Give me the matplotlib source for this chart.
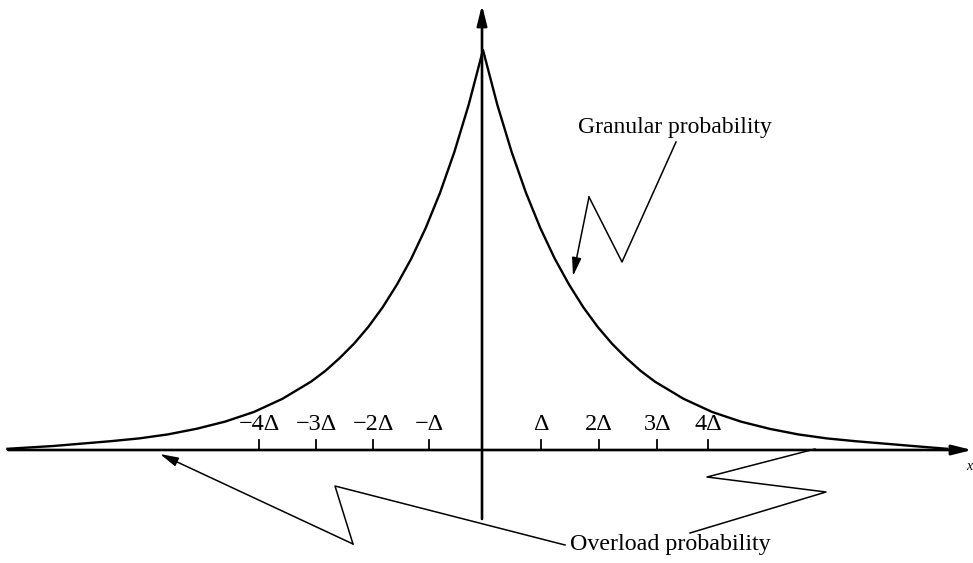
"""
Granular vs overload probability: two-sided exponential density
with the quantiser step marks along the horizontal axis.
"""

import matplotlib
matplotlib.use('Agg')
import matplotlib.pyplot as plt

# ── data (x in units of delta, height relative to the peak) ──────────────────
curve_x = [-8.3, -7.5, -7.0, -6.5, -6.0, -5.5, -5.0, -4.5, -4.0, -3.5, -3.0,
           -2.75, -2.5, -2.25, -2.0, -1.75, -1.5, -1.25, -1.0, -0.75, -0.5,
           -0.25, 0.0,
           0.25, 0.5, 0.75, 1.0, 1.25, 1.5, 1.75, 2.0, 2.25, 2.5, 2.75, 3.0,
           3.5, 4.0, 4.5, 5.0, 5.5, 6.0, 6.5, 7.0, 7.5, 8.1]
curve_y = [0.003, 0.010, 0.016, 0.022, 0.029, 0.039, 0.053, 0.071, 0.095,
           0.128, 0.171, 0.198, 0.230, 0.266, 0.308, 0.357, 0.414, 0.479,
           0.555, 0.643, 0.745, 0.863, 1.0,
           0.863, 0.745, 0.643, 0.555, 0.479, 0.414, 0.357, 0.308, 0.266,
           0.230, 0.198, 0.171, 0.128, 0.095, 0.071, 0.053, 0.039, 0.029,
           0.022, 0.016, 0.010, 0.003]

tick_pos    = [-3.91, -2.91, -1.92, -0.94, 1.01, 2.02, 3.04, 3.93]
tick_labels = ['\u22124\u0394', '\u22123\u0394', '\u22122\u0394', '\u2212\u0394',
               '\u0394', '2\u0394', '3\u0394', '4\u0394']

# ── figure layout: 973 x 563 px, origin at (483, 450) px, delta = 57.3 px ────
W, H = 973, 563
X0, Y0, DX, PEAK = 483, 450, 57.3, 400

plt.rcParams['font.family'] = ['Liberation Serif', 'DejaVu Serif']
fig = plt.figure(figsize=(W / 100, H / 100), dpi=100)
fig.patch.set_facecolor('white')

ax = fig.add_axes([0, 0, 1, 1])
ax.set_xlim(-X0 / DX, (W - X0) / DX)
ax.set_ylim(-(H - Y0) / PEAK, Y0 / PEAK)
ax.axis('off')

# overlay in pixel coordinates for the leader lines and labels
ov = fig.add_axes([0, 0, 1, 1])
ov.set_xlim(0, W)
ov.set_ylim(H, 0)
ov.axis('off')
ov.patch.set_alpha(0)

# ── the density curve ────────────────────────────────────────────────────────
ax.plot(curve_x, curve_y, color='black', lw=1.7, solid_joinstyle='round')

# ── axes with arrow heads ────────────────────────────────────────────────────
head = dict(arrowstyle='-|>,head_length=1.2,head_width=0.3', color='black',
            lw=1.9, shrinkA=0, shrinkB=0)
ov.annotate('', xy=(972, 450), xytext=(8, 450), arrowprops=head)
ov.annotate('', xy=(482, 5), xytext=(482, 519), arrowprops=head)
ov.text(966, 466, 'x', fontsize=10, style='italic', ha='left', va='center')

# tick marks and labels
for p, lbl in zip(tick_pos, tick_labels):
    ax.plot([p, p], [0, 10 / PEAK], color='black', lw=1.3)
    ax.text(p, 20 / PEAK, lbl, ha='center', va='baseline', fontsize=17.5)

# ── leader lines ─────────────────────────────────────────────────────────────
lead = dict(color='black', lw=1.1)
tip = dict(arrowstyle='-|>,head_length=1.1,head_width=0.28', color='black',
           lw=1.1, shrinkA=0, shrinkB=0)

# granular probability
ov.text(578, 133, 'Granular probability', fontsize=17, ha='left', va='baseline')
ov.plot([676, 622, 589], [142, 262, 197], **lead)
ov.annotate('', xy=(573, 276), xytext=(589, 197), arrowprops=tip)

# overload probability
ov.text(570, 550, 'Overload probability', fontsize=17.3, ha='left', va='baseline')
ov.plot([565, 335, 353], [545, 486, 544], **lead)
ov.annotate('', xy=(160, 454), xytext=(353, 544), arrowprops=tip)
ov.plot([690, 826, 707, 815], [533, 492, 477, 449], **lead)

plt.savefig('out.png', dpi=100, facecolor='white')
